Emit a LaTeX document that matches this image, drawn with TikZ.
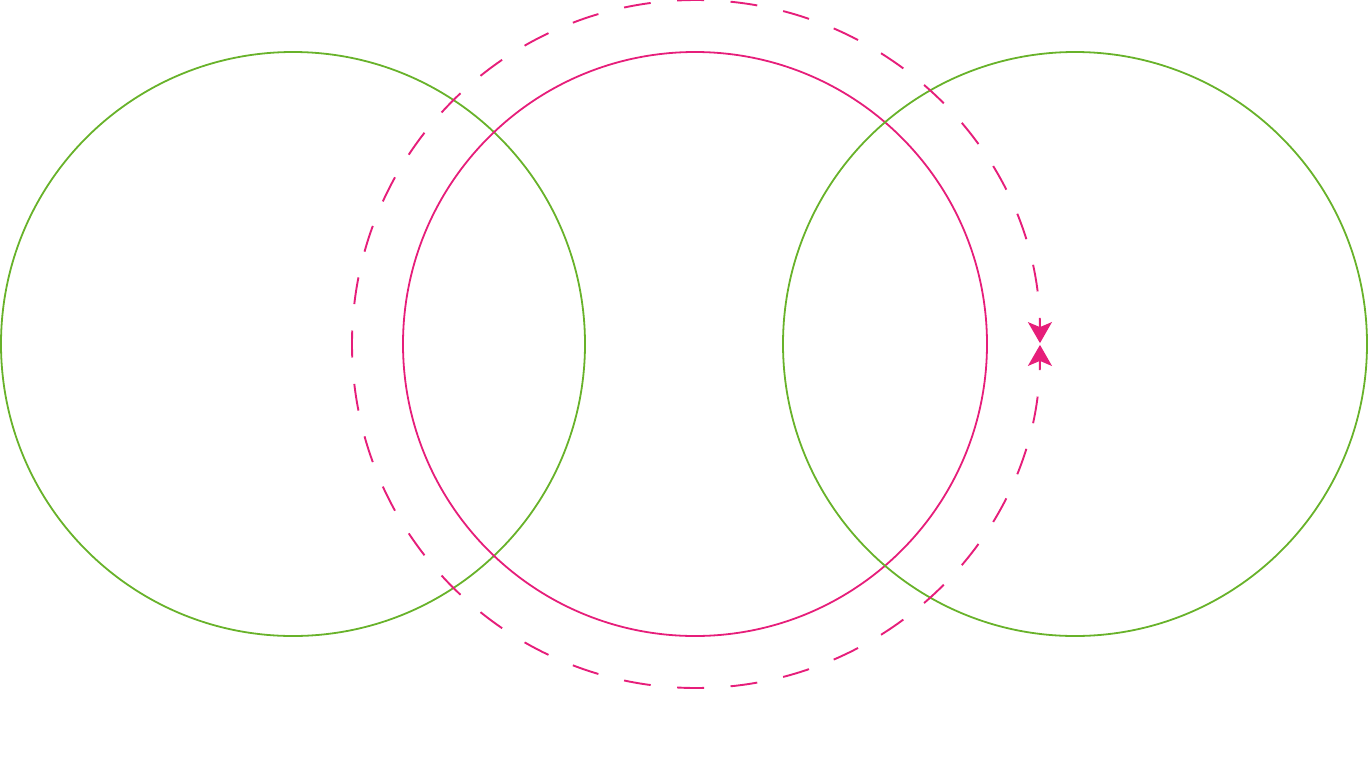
\documentclass[tikz,border=0pt]{standalone}
\usetikzlibrary{arrows.meta}
\definecolor{cgreen}{RGB}{104,178,42}
\definecolor{cpink}{RGB}{230,30,122}
\begin{document}
\begin{tikzpicture}[x=1pt,y=1pt,
  ring/.style={circle,draw,line width=1.8pt,minimum size=584pt,inner sep=0pt},
  dashring/.style={draw=cpink,line width=1.9pt,dash pattern=on 27pt off 26.5pt,dash phase=13.5pt,
    -{Stealth[length=21pt,width=24pt,inset=5pt]}}]
\useasboundingbox (0,0) rectangle (1368,-777);
\node[ring,draw=cgreen] (L) at (293,-344) {};
\node[ring,draw=cpink] (M) at (695,-344) {};
\node[ring,draw=cgreen] (R) at (1075,-344) {};
\coordinate (C) at (696,-344);
\draw[dashring] ([shift={(180:344)}]C) arc[start angle=180,end angle=0.15,radius=344];
\draw[dashring] ([shift={(180:344)}]C) arc[start angle=180,end angle=359.85,radius=344];
\end{tikzpicture}
\end{document}
